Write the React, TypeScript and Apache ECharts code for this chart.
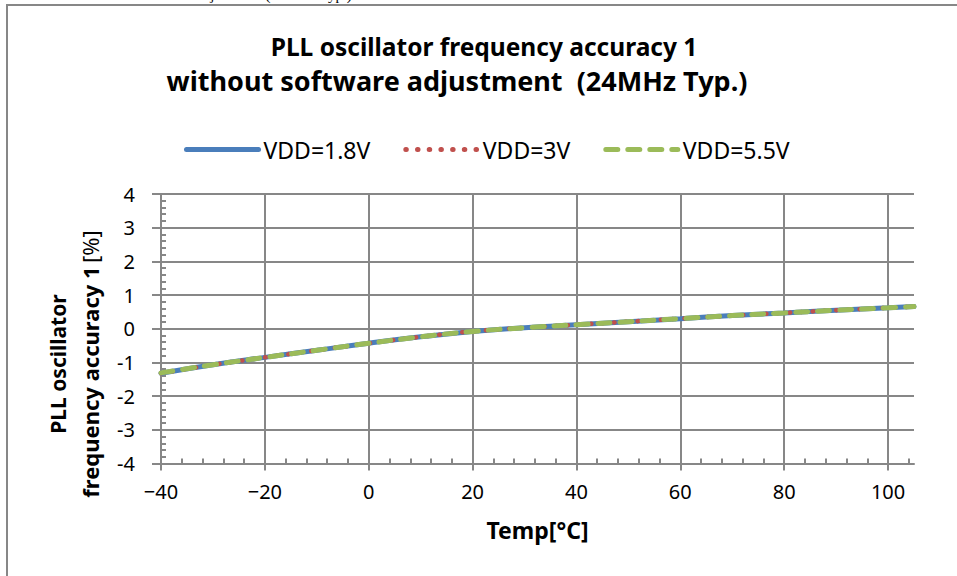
import React, { useEffect, useRef } from "react";
import * as echarts from "echarts";

const tempC = [-40, -30, -20, -10, 0, 10, 20, 30, 40, 50, 60, 70, 80, 90, 100, 105];
const vdd18 = [-1.32, -1.07, -0.85, -0.64, -0.43, -0.24, -0.08, 0.03, 0.12, 0.21, 0.3, 0.39, 0.47, 0.55, 0.62, 0.66];
const vdd3 = [-1.32, -1.07, -0.85, -0.64, -0.43, -0.24, -0.08, 0.03, 0.12, 0.21, 0.3, 0.39, 0.47, 0.55, 0.62, 0.66];
const vdd55 = [-1.31, -1.07, -0.85, -0.64, -0.43, -0.24, -0.08, 0.03, 0.12, 0.21, 0.3, 0.39, 0.47, 0.55, 0.62, 0.66];
const seriesNames = ["VDD=1.8V", "VDD=3V", "VDD=5.5V"];
const xTicks = [-40, -20, 0, 20, 40, 60, 80, 100];
const titleLine1 = "PLL oscillator frequency accuracy 1";
const titleLine2 = "without software adjustment  (24MHz Typ.)";

const GRID = "#878787";
const FONT = "Noto Sans";

export default function App() {
  const ref = useRef<HTMLDivElement>(null);
  useEffect(() => {
    document.body.style.margin = "0";
    const chart = echarts.init(ref.current!, null, { renderer: "svg" });
    const pair = (ys: number[]) => tempC.map((t, i) => [t, ys[i]]);
    const commonX = { type: "value", min: -40, max: 105, interval: 20, gridIndex: 0 };
    const commonY = { type: "value", min: -4, max: 4, interval: 1, gridIndex: 0 };
    chart.setOption({
      animation: false,
      backgroundColor: "#ffffff",
      textStyle: { fontFamily: FONT },
      grid: { left: 161, right: 43, top: 194, bottom: 112.5, containLabel: false },
      legend: {
        data: seriesNames,
        left: 179,
        top: 133,
        itemWidth: 72,
        itemHeight: 14,
        itemGap: 33,
        textStyle: { fontFamily: FONT, fontSize: 23, color: "#000" },
        lineStyle: { width: 5 },
        itemStyle: { opacity: 0 },
      },
      xAxis: [
        {
          ...commonX,
          name: "Temp[°C]",
          nameLocation: "middle",
          nameGap: 55,
          nameTextStyle: { fontFamily: FONT, fontSize: 23, fontWeight: "bold", color: "#000" },
          axisLine: { show: true, onZero: false, lineStyle: { color: GRID, width: 2 } },
          axisTick: { show: true, length: 7, inside: false, customValues: xTicks, lineStyle: { color: GRID, width: 2 } },
          axisLabel: {
            customValues: xTicks,
            margin: 18,
            fontFamily: FONT,
            fontSize: 20,
            color: "#000",
            formatter: (v: number) => (v < 0 ? "\u2212" + Math.abs(v) : String(v)),
          },
          splitLine: {
            show: true,
            lineStyle: { color: [GRID, GRID, GRID, GRID, GRID, GRID, GRID, GRID, "transparent"], width: 2 },
          },
          minorTick: { show: false },
        },
        {
          ...commonX,
          position: "bottom",
          axisLine: { show: false, onZero: false },
          axisTick: { show: false, inside: true },
          axisLabel: { show: false },
          splitLine: { show: false },
          minorTick: { show: true, splitNumber: 5, length: 5, lineStyle: { color: GRID, width: 2 } },
        },
      ],
      yAxis: [
        {
          ...commonY,
          axisLine: { show: true, onZero: false, lineStyle: { color: GRID, width: 2 } },
          axisTick: { show: true, length: 9, inside: false, lineStyle: { color: GRID, width: 2 } },
          axisLabel: { margin: 26, fontFamily: FONT, fontSize: 20, color: "#000" },
          splitLine: { show: true, lineStyle: { color: GRID, width: 2 } },
          minorTick: { show: false },
        },
        {
          ...commonY,
          position: "left",
          axisLine: { show: false, onZero: false },
          axisTick: { show: false, inside: true },
          axisLabel: { show: false },
          splitLine: { show: false },
          minorTick: { show: true, splitNumber: 5, length: 5, lineStyle: { color: GRID, width: 2 } },
        },
      ],
      series: [
        {
          name: seriesNames[0],
          type: "line",
          xAxisIndex: 0,
          yAxisIndex: 0,
          data: pair(vdd18),
          smooth: true,
          symbol: "none",
          lineStyle: { color: "#4a7ebb", width: 5, cap: "round" },
          itemStyle: { color: "#4a7ebb" },
          z: 2,
        },
        {
          name: seriesNames[1],
          type: "line",
          xAxisIndex: 0,
          yAxisIndex: 0,
          data: pair(vdd3),
          smooth: true,
          symbol: "none",
          lineStyle: { color: "#c0504d", width: 4.5, type: [0.5, 11.2], cap: "round" },
          itemStyle: { color: "#c0504d" },
          z: 3,
        },
        {
          name: seriesNames[2],
          type: "line",
          xAxisIndex: 0,
          yAxisIndex: 0,
          data: pair(vdd55),
          smooth: true,
          symbol: "none",
          lineStyle: { color: "#9bbb59", width: 5, type: [12, 10], cap: "round" },
          itemStyle: { color: "#9bbb59" },
          z: 4,
        },
      ],
      graphic: [
        {
          type: "rect",
          silent: true,
          shape: { x: 7, y: 5, width: 1000, height: 700 },
          style: { fill: "none", stroke: GRID, lineWidth: 2 },
        },
        {
          type: "text",
          x: 196,
          y: 2,
          style: {
            text: "adjustment (24MHz Typ.)",
            fontFamily: "Liberation Serif",
            fontSize: 15,
            fill: "#000",
            textVerticalAlign: "bottom",
          },
        },
        {
          type: "text",
          x: 484,
          y: 46,
          style: {
            text: titleLine1,
            fontFamily: FONT,
            fontSize: 24.5,
            fontWeight: "bold",
            fill: "#000",
            textAlign: "center",
            textVerticalAlign: "middle",
          },
        },
        {
          type: "text",
          x: 457,
          y: 80,
          style: {
            text: titleLine2,
            fontFamily: FONT,
            fontSize: 27,
            fontWeight: "bold",
            fill: "#000",
            textAlign: "center",
            textVerticalAlign: "middle",
          },
        },
        {
          type: "text",
          x: 58,
          y: 364,
          rotation: Math.PI / 2,
          style: {
            text: "PLL oscillator",
            fontFamily: FONT,
            fontSize: 21,
            fontWeight: "bold",
            fill: "#000",
            textAlign: "center",
            textVerticalAlign: "middle",
          },
        },
        {
          type: "text",
          x: 90,
          y: 364,
          rotation: Math.PI / 2,
          style: {
            text: "{b|frequency accuracy 1} {r|[%]}",
            textAlign: "center",
            textVerticalAlign: "middle",
            rich: {
              b: { fontFamily: FONT, fontSize: 22, fontWeight: "bold", fill: "#000" },
              r: { fontFamily: FONT, fontSize: 22, fill: "#000" },
            },
          },
        },
      ],
    });
    return () => chart.dispose();
  }, []);
  return <div ref={ref} style={{ width: 957, height: 576 }} />;
}
